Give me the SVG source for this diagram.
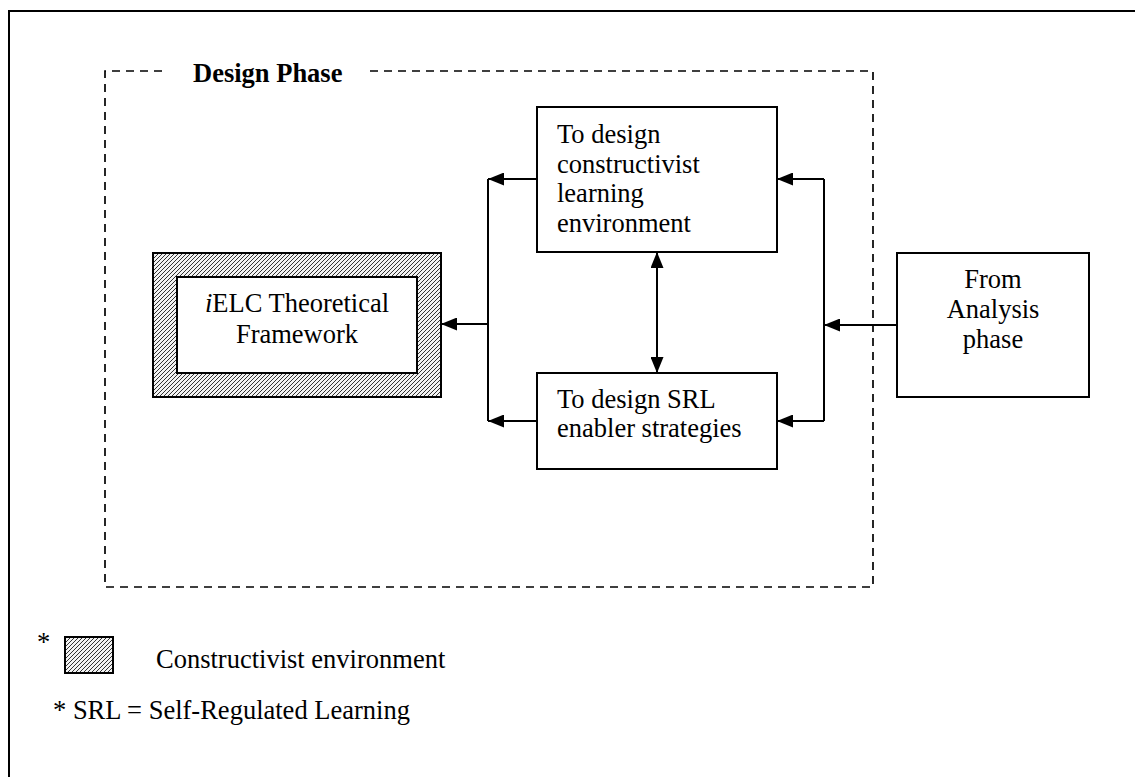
<svg xmlns="http://www.w3.org/2000/svg" width="1135" height="777" viewBox="0 0 1135 777">
  <style>
    .txt { font-family: "Liberation Serif", "Times New Roman", serif; font-size: 26.5px; fill: #000; }
    .bold { font-weight: bold; }
    .box { fill: #fff; stroke: #000; stroke-width: 2; }
    .line { fill: none; stroke: #000; stroke-width: 2; }
    .dash { fill: none; stroke: #000; stroke-width: 1.7; stroke-dasharray: 8 6; }
  </style>
  <defs>
    <pattern id="hatch" patternUnits="userSpaceOnUse" width="4" height="4">
      <rect width="4" height="4" fill="#f2f2f2"/>
      <path d="M-1,1 L1,-1 M0,4 L4,0 M3,5 L5,3" stroke="#333" stroke-width="1"/>
    </pattern>
    <marker id="arrow" markerUnits="userSpaceOnUse" markerWidth="17" markerHeight="13" refX="16" refY="6.5" orient="auto-start-reverse">
      <path d="M0,0 L16,6.5 L0,13 Z" fill="#000"/>
    </marker>
  </defs>

  <!-- page frame -->
  <path d="M9,777 V11 H1135" fill="none" stroke="#000" stroke-width="2"/>

  <!-- design phase region -->
  <g id="design-phase">
    <path class="dash" d="M162,71 H105 V587 H873 V71 H370"/>
    <text class="txt bold" x="193" y="82">Design Phase</text>
  </g>

  <!-- framework box with hatched surround -->
  <g id="ielc-framework">
    <rect x="153" y="253" width="288" height="144" fill="url(#hatch)" stroke="#000" stroke-width="2"/>
    <rect class="box" x="177" y="277" width="240" height="96"/>
    <text class="txt" x="297" y="312" text-anchor="middle"><tspan font-style="italic">i</tspan>ELC Theoretical</text>
    <text class="txt" x="297" y="343" text-anchor="middle">Framework</text>
  </g>

  <g id="constructivist-design">
    <rect class="box" x="537" y="107" width="240" height="145"/>
    <text class="txt" x="557" y="143">To design</text>
    <text class="txt" x="557" y="173">constructivist</text>
    <text class="txt" x="557" y="202">learning</text>
    <text class="txt" x="557" y="232">environment</text>
  </g>

  <g id="srl-design">
    <rect class="box" x="537" y="373" width="240" height="96"/>
    <text class="txt" x="557" y="408">To design SRL</text>
    <text class="txt" x="557" y="437">enabler strategies</text>
  </g>

  <g id="analysis-phase">
    <rect class="box" x="897" y="253" width="192" height="144"/>
    <text class="txt" x="993" y="288" text-anchor="middle">From</text>
    <text class="txt" x="993" y="318" text-anchor="middle">Analysis</text>
    <text class="txt" x="993" y="348" text-anchor="middle">phase</text>
  </g>

  <!-- connectors -->
  <g id="connectors">
    <line class="line" x1="537" y1="179" x2="488" y2="179" marker-end="url(#arrow)"/>
    <line class="line" x1="537" y1="421" x2="488" y2="421" marker-end="url(#arrow)"/>
    <line class="line" x1="488" y1="179" x2="488" y2="421"/>
    <line class="line" x1="488" y1="324" x2="441" y2="324" marker-end="url(#arrow)"/>

    <line class="line" x1="657" y1="252" x2="657" y2="373" marker-start="url(#arrow)" marker-end="url(#arrow)"/>

    <line class="line" x1="824" y1="179" x2="824" y2="421"/>
    <line class="line" x1="824" y1="179" x2="777" y2="179" marker-end="url(#arrow)"/>
    <line class="line" x1="824" y1="421" x2="777" y2="421" marker-end="url(#arrow)"/>
    <line class="line" x1="897" y1="325" x2="824" y2="325" marker-end="url(#arrow)"/>
  </g>

  <!-- legend -->
  <g id="legend">
    <text class="txt" x="37" y="651">*</text>
    <rect x="65" y="637" width="48" height="36" fill="url(#hatch)" stroke="#000" stroke-width="2"/>
    <text class="txt" x="156" y="668">Constructivist environment</text>
    <text class="txt" x="53" y="719">* SRL = Self-Regulated Learning</text>
  </g>
</svg>
